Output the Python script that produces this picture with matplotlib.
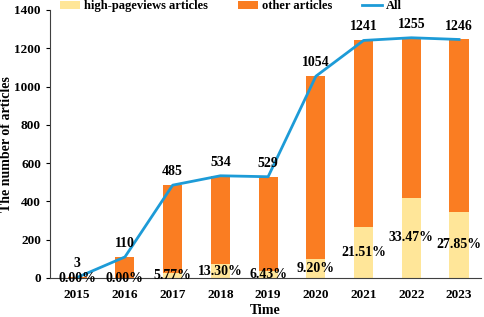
import matplotlib
matplotlib.use('Agg')
import matplotlib.pyplot as plt
import numpy as np

plt.rcParams['font.family'] = ['Liberation Serif', 'DejaVu Serif']
plt.rcParams['font.weight'] = 'bold'

# data
years = ['2015', '2016', '2017', '2018', '2019', '2020', '2021', '2022', '2023']
totals = [3, 110, 485, 534, 529, 1054, 1241, 1255, 1246]
pcts = [0.00, 0.00, 5.77, 13.30, 6.43, 9.20, 21.51, 33.47, 27.85]

high = [t * p / 100 for t, p in zip(totals, pcts)]
other = [t - h for t, h in zip(totals, high)]

c_high = '#FFE699'
c_other = '#FA7D22'
c_line = '#1D9BD7'

x = np.arange(len(years))
width = 0.4

fig = plt.figure(figsize=(4.84, 3.17), dpi=100)
ax = fig.add_axes([50 / 484, 1 - 278 / 317, 431 / 484, 268 / 317])

b1 = ax.bar(x, high, width, color=c_high, label='high-pageviews articles', zorder=2)
b2 = ax.bar(x, other, width, bottom=high, color=c_other, label='other articles', zorder=2)
ln, = ax.plot(x, totals, color=c_line, lw=2, label='All', zorder=3)

# totals above bars
for xi, t in zip(x, totals):
    ax.annotate(f'{t}', xy=(xi, t), xytext=(0, 5), textcoords='offset points',
                ha='center', va='bottom', fontsize=10, fontweight='bold', zorder=4)

# percentages in the middle of the yellow part
for xi, h, p in zip(x, high, pcts):
    ax.text(xi, h / 2, f'{p:.2f}%', ha='center', va='center',
            fontsize=10, fontweight='bold', zorder=4)

ax.set_xlim(-0.57, 8.46)
ax.set_ylim(0, 1400)
ax.set_yticks(range(0, 1401, 200))
ax.set_xticks(x)
ax.set_xticklabels(years)
ax.tick_params(axis='x', length=0, labelsize=9.5, pad=8)
ax.tick_params(axis='y', length=3, labelsize=9.5, direction='out')
for lab in ax.get_xticklabels() + ax.get_yticklabels():
    lab.set_fontweight('bold')

ax.spines['top'].set_visible(False)
ax.spines['right'].set_visible(False)
ax.spines['left'].set_color('#404040')
ax.spines['bottom'].set_color('#404040')

ax.set_xlabel('Time', fontsize=10, fontweight='bold', labelpad=2)
ax.set_ylabel('The number of articles', fontsize=10, fontweight='bold', labelpad=1)

ax.legend([b1, b2, ln], ['high-pageviews articles', 'other articles', 'All'],
          loc='center', bbox_to_anchor=(0.42, 1.015), ncol=3, frameon=False,
          handlelength=1.6, handleheight=0.6, columnspacing=2.4, handletextpad=0.3,
          borderpad=0, prop={'weight': 'bold', 'size': 9})

fig.savefig('out.png', dpi=100)
